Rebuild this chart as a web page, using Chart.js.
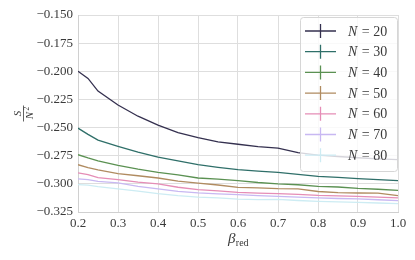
<!DOCTYPE html>
<html>
<head>
<meta charset="utf-8">
<script src="https://cdn.jsdelivr.net/npm/chart.js@4"></script>
<style>
  html, body { margin: 0; padding: 0; background: #fff; }
  #wrap { width: 415px; height: 260px; }
</style>
</head>
<body>
<div id="wrap"><canvas id="chart"></canvas></div>
<script>
// β_red の値
const beta = [0.2, 0.225, 0.25, 0.3, 0.35, 0.4, 0.45, 0.5, 0.55, 0.6, 0.65, 0.7, 0.75, 0.8, 0.85, 0.9, 0.95, 1.0];

// S / N^2 の値 (N ごと)
const n20 = [-0.2000, -0.2063, -0.2176, -0.2300, -0.2399, -0.2479, -0.2545, -0.2589, -0.2627, -0.2648, -0.2670, -0.2682, -0.2722, -0.2745, -0.2757, -0.2768, -0.2778, -0.2785];
const n30 = [-0.2505, -0.2560, -0.2612, -0.2667, -0.2718, -0.2762, -0.2795, -0.2830, -0.2853, -0.2874, -0.2887, -0.2898, -0.2915, -0.2933, -0.2943, -0.2954, -0.2962, -0.2971];
const n40 = [-0.2741, -0.2770, -0.2795, -0.2836, -0.2870, -0.2898, -0.2920, -0.2948, -0.2958, -0.2972, -0.2988, -0.3000, -0.3008, -0.3022, -0.3028, -0.3040, -0.3048, -0.3058];
const n50 = [-0.2830, -0.2855, -0.2875, -0.2910, -0.2928, -0.2948, -0.2975, -0.2993, -0.3010, -0.3031, -0.3036, -0.3043, -0.3045, -0.3068, -0.3078, -0.3081, -0.3082, -0.3105];
const n60 = [-0.2903, -0.2918, -0.2945, -0.2963, -0.2985, -0.3001, -0.3030, -0.3051, -0.3063, -0.3075, -0.3082, -0.3087, -0.3094, -0.3102, -0.3106, -0.3111, -0.3117, -0.3125];
const n70 = [-0.2955, -0.2962, -0.2978, -0.2992, -0.3022, -0.3045, -0.3066, -0.3081, -0.3089, -0.3096, -0.3104, -0.3111, -0.3118, -0.3125, -0.3130, -0.3134, -0.3141, -0.3149];
const n80 = [-0.3007, -0.3012, -0.3025, -0.3045, -0.3065, -0.3087, -0.3105, -0.3117, -0.3125, -0.3135, -0.3140, -0.3138, -0.3148, -0.3155, -0.3160, -0.3164, -0.3170, -0.3175];

const sizes = [20, 30, 40, 50, 60, 70, 80];
const values = [n20, n30, n40, n50, n60, n70, n80];
const colors = ['#34304f', '#2f6f69', '#5b9152', '#b08b60', '#e58db6', '#c8b8f2', '#cdecf3'];

const yTicks = [-0.150, -0.175, -0.200, -0.225, -0.250, -0.275, -0.300, -0.325];
const xTicks = [0.2, 0.3, 0.4, 0.5, 0.6, 0.7, 0.8, 0.9, 1.0];

const serif = "'Liberation Serif', 'DejaVu Serif', serif";
const textColor = '#3a3a3a';

const datasets = sizes.map((n, i) => ({
  label: 'N = ' + n,
  data: beta.map((b, j) => ({ x: b, y: values[i][j] })),
  borderColor: colors[i],
  backgroundColor: colors[i],
  borderWidth: 1.3,
  pointRadius: 0,
  tension: 0
}));

// 凡例 (matplotlib 風、半透明の箱)
const legendPlugin = {
  id: 'mplLegend',
  afterDatasetsDraw(chart) {
    const ctx = chart.ctx;
    const area = chart.chartArea;
    const x0 = 300, y0 = 17, w = area.right - x0, h = 154;
    ctx.save();
    ctx.fillStyle = 'rgba(255,255,255,0.8)';
    ctx.strokeStyle = '#d6d6d6';
    ctx.lineWidth = 1;
    ctx.beginPath();
    ctx.roundRect(x0 + 0.5, y0 + 0.5, w - 1, h, 3);
    ctx.fill();
    ctx.stroke();
    chart.data.datasets.forEach((ds, i) => {
      const cy = 31 + i * 20.7;
      ctx.strokeStyle = ds.borderColor;
      ctx.lineWidth = 1.3;
      ctx.beginPath();
      ctx.moveTo(305, cy);
      ctx.lineTo(336, cy);
      ctx.moveTo(320.5, cy - 7);
      ctx.lineTo(320.5, cy + 7);
      ctx.stroke();
      ctx.fillStyle = textColor;
      ctx.textBaseline = 'middle';
      ctx.textAlign = 'left';
      ctx.font = 'italic 14px ' + serif;
      ctx.fillText('N', 348, cy + 1);
      const nw = ctx.measureText('N').width;
      ctx.font = '14px ' + serif;
      ctx.fillText(' = ' + sizes[i], 348 + nw + 1, cy + 1);
    });
    ctx.restore();
  }
};

// 軸ラベル (分数と下付き文字)
const axisTitlePlugin = {
  id: 'axisTitles',
  afterDraw(chart) {
    const ctx = chart.ctx;
    const area = chart.chartArea;
    ctx.save();
    ctx.fillStyle = textColor;
    ctx.strokeStyle = textColor;
    // x 軸: β_red
    const cx = (area.left + area.right) / 2;
    ctx.textBaseline = 'alphabetic';
    ctx.textAlign = 'left';
    ctx.font = 'italic 15px ' + serif;
    const bw = ctx.measureText('β').width;
    ctx.font = '10px ' + serif;
    const rw = ctx.measureText('red').width;
    const sx = cx - (bw + rw) / 2;
    ctx.font = 'italic 15px ' + serif;
    ctx.fillText('β', sx, 243);
    ctx.font = '10px ' + serif;
    ctx.fillText('red', sx + bw + 0.5, 246);
    // y 軸: S / N^2
    ctx.translate(23, (area.top + area.bottom) / 2);
    ctx.rotate(-Math.PI / 2);
    ctx.textAlign = 'center';
    ctx.font = 'italic 11px ' + serif;
    ctx.fillText('S', 0, -2.5);
    ctx.lineWidth = 0.8;
    ctx.beginPath();
    ctx.moveTo(-8, 0.5);
    ctx.lineTo(8, 0.5);
    ctx.stroke();
    ctx.fillText('N', -2, 10);
    ctx.font = '7.5px ' + serif;
    ctx.fillText('2', 5, 6);
    ctx.restore();
  }
};

new Chart(document.getElementById('chart'), {
  type: 'line',
  data: { datasets },
  options: {
    responsive: true,
    maintainAspectRatio: false,
    animation: false,
    layout: { padding: { top: 15, right: 17, left: 0, bottom: 0 } },
    plugins: {
      legend: { display: false },
      tooltip: { enabled: false }
    },
    scales: {
      x: {
        type: 'linear',
        min: 0.2,
        max: 1.0,
        afterFit: (s) => { s.height = 48; },
        afterBuildTicks: (s) => { s.ticks = xTicks.map(v => ({ value: v })); },
        grid: { color: '#dedede', lineWidth: 1, drawTicks: false },
        border: { color: '#d0d0d0' },
        ticks: {
          padding: 4,
          color: textColor,
          font: { family: serif, size: 13 },
          callback: (v) => Number(v).toFixed(1)
        }
      },
      y: {
        min: -0.325,
        max: -0.15,
        afterFit: (s) => { s.width = 78; },
        afterBuildTicks: (s) => { s.ticks = yTicks.map(v => ({ value: v })); },
        grid: { color: '#dedede', lineWidth: 1, drawTicks: false },
        border: { color: '#d0d0d0' },
        ticks: {
          padding: 5,
          color: textColor,
          font: { family: serif, size: 13 },
          callback: (v) => '\u2212' + Math.abs(v).toFixed(3)
        }
      }
    }
  },
  plugins: [legendPlugin, axisTitlePlugin]
});
</script>
</body>
</html>
